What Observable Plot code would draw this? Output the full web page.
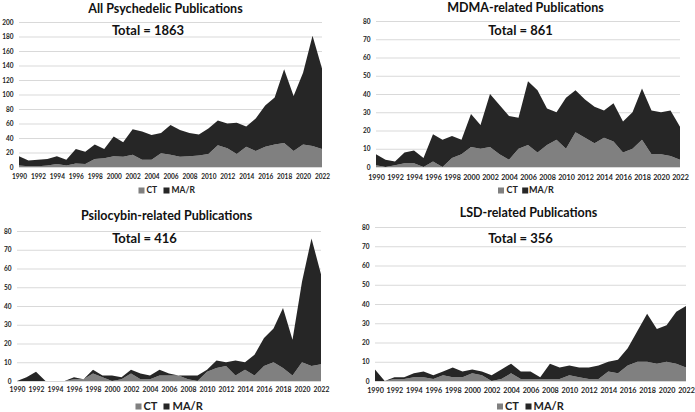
<!DOCTYPE html>
<html><head><meta charset="utf-8">
<script src="https://cdn.jsdelivr.net/npm/d3@7"></script>
<script src="https://cdn.jsdelivr.net/npm/@observablehq/plot@0.6"></script>
<style>
html,body{margin:0;padding:0;background:#fff;}
#root{position:relative;width:695px;height:412px;overflow:hidden;background:#fff;}
.panel{position:absolute;overflow:visible;}
</style></head><body><div id="root"></div>
<script>
const years = [1990,1991,1992,1993,1994,1995,1996,1997,1998,1999,2000,2001,2002,2003,2004,2005,2006,2007,2008,2009,2010,2011,2012,2013,2014,2015,2016,2017,2018,2019,2020,2021,2022];
const tickYears = [1990,1992,1994,1996,1998,2000,2002,2004,2006,2008,2010,2012,2014,2016,2018,2020,2022];
const seriesNames = ["CT","MA/R"];
const seriesColors = ["#808080","#262626"];

const titles = ["All Psychedelic Publications","MDMA-related Publications","Psilocybin-related Publications","LSD-related Publications"];
const totals = ["Total = 1863","Total = 861","Total = 416","Total = 356"];

const allCT  = [2,1,1,2,4,2,5,4,11,12,15,14,17,10,10,19,17,14,15,16,18,30,26,18,28,22,28,31,33,22,31,29,25];
const allMAR = [13,8,9,9,11,8,20,17,20,13,27,20,35,39,34,28,41,37,32,29,35,34,34,43,28,45,57,65,102,76,99,152,111];

const mdmaCT  = [1,0,1,2,2,0,3,0,5,7,11,10,11,7,4,10,12,8,12,15,10,19,16,13,16,14,8,10,15,7,7,6,4];
const mdmaMAR = [6,4,2,6,7,5,15,15,12,8,18,13,29,27,24,17,35,34,20,15,28,23,21,20,15,21,17,20,28,24,23,25,18];

const psiCT  = [0,0,0,0,0,0,1,1,4,2,0,1,4,1,1,3,3,3,1,0,5,7,8,3,6,3,8,10,7,3,10,8,9];
const psiMAR = [0,2,5,0,0,0,1,0,2,1,3,1,2,3,2,3,1,0,2,3,1,4,2,8,4,11,15,18,32,19,43,68,48];

const lsdCT  = [0,0,1,1,2,2,1,3,2,2,4,3,0,1,4,1,1,1,1,1,3,2,1,1,5,4,8,10,10,9,10,9,7];
const lsdMAR = [6,0,1,1,2,3,2,2,5,3,2,2,3,5,5,4,4,1,8,6,5,5,6,7,5,7,9,16,25,18,19,27,32];

const yTicksAll = [0,20,40,60,80,100,120,140,160,180,200];
const yTicks80 = [0,10,20,30,40,50,60,70,80];

const FONT = "Lato, 'Open Sans', sans-serif";

function panel(cfg) {
  const data = [];
  seriesNames.forEach((s, k) => years.forEach((yr, i) => data.push({year: yr, type: s, value: cfg.series[k][i]})));
  const yTicks = cfg.yTicks;
  const chart = Plot.plot({
    width: cfg.w, height: cfg.h,
    marginTop: cfg.mt, marginRight: cfg.mr, marginBottom: cfg.mb, marginLeft: cfg.ml,
    style: {fontFamily: FONT, background: "#fff", overflow: "visible", color: "#000"},
    x: {domain: [years[0], years[years.length - 1]], label: null},
    y: {domain: [yTicks[0], yTicks[yTicks.length - 1]], label: null},
    color: {domain: seriesNames, range: seriesColors},
    marks: [
      Plot.gridY(yTicks, {stroke: "#d9d9d9", strokeOpacity: 1, strokeWidth: 1}),
      Plot.areaY(data, {x: "year", y: "value", fill: "type", z: "type"}),
      Plot.axisX(tickYears, {label: null, tickSize: 0, tickPadding: cfg.xPad, fontSize: cfg.xFont, fontWeight: "bold", tickFormat: d => String(d), fill: "#222"}),
      Plot.axisY(yTicks, {label: null, tickSize: 0, tickPadding: cfg.yPad, fontSize: cfg.yFont, fontWeight: "bold", fill: "#222"}),
      Plot.text([cfg.title], {frameAnchor: "top", lineAnchor: "middle", dx: cfg.tdx, dy: cfg.tdy, fontSize: cfg.tFont, fontWeight: "bold", fill: "#111"}),
      Plot.text([cfg.total], {frameAnchor: "top", lineAnchor: "middle", dx: cfg.sdx, dy: cfg.sdy, fontSize: cfg.sFont, fontWeight: "bold", fill: "#111"}),
      Plot.dot([seriesNames[0]], {frameAnchor: "bottom", dx: cfg.lg[0], dy: cfg.ldy, symbol: "square", r: cfg.lr, fill: seriesColors[0], stroke: "none"}),
      Plot.text([seriesNames[0]], {frameAnchor: "bottom", textAnchor: "start", lineAnchor: "middle", dx: cfg.lg[1], dy: cfg.ldy, fontSize: cfg.lFont, fontWeight: "bold", fill: "#222"}),
      Plot.dot([seriesNames[1]], {frameAnchor: "bottom", dx: cfg.lg[2], dy: cfg.ldy, symbol: "square", r: cfg.lr, fill: seriesColors[1], stroke: "none"}),
      Plot.text([seriesNames[1]], {frameAnchor: "bottom", textAnchor: "start", lineAnchor: "middle", dx: cfg.lg[3], dy: cfg.ldy, fontSize: cfg.lFont, fontWeight: "bold", fill: "#222"})
    ]
  });
  chart.classList.add("panel");
  chart.style.left = cfg.x + "px";
  chart.style.top = cfg.y + "px";
  document.getElementById("root").appendChild(chart);
}

panel({x: 0, y: 0, w: 347, h: 205, mt: 22, mr: 25, mb: 38, ml: 19,
  series: [allCT, allMAR], yTicks: yTicksAll, title: titles[0], total: totals[0],
  xPad: 7, xFont: 6.5, yPad: 6, yFont: 6.5,
  tdx: -5.5, tdy: -14, tFont: 12.5, sdx: -23, sdy: 8, sFont: 13,
  lg: [-29.5, -24.5, -4.5, 0.5], ldy: 23, lr: 3.4, lFont: 8.5});

panel({x: 345, y: 0, w: 350, h: 205, mt: 21, mr: 15, mb: 38, ml: 31,
  series: [mdmaCT, mdmaMAR], yTicks: yTicks80, title: titles[1], total: totals[1],
  xPad: 7, xFont: 7.2, yPad: 6, yFont: 6.5,
  tdx: -3, tdy: -14, tFont: 12.5, sdx: -8, sdy: 9, sFont: 13,
  lg: [-27.5, -22, -3.3, 0.5], ldy: 23, lr: 3.4, lFont: 9});

panel({x: 0, y: 205, w: 347, h: 207, mt: 26, mr: 26, mb: 31, ml: 17,
  series: [psiCT, psiMAR], yTicks: yTicks80, title: titles[2], total: totals[2],
  xPad: 6, xFont: 6.8, yPad: 6, yFont: 6.5,
  tdx: -3, tdy: -16, tFont: 12.5, sdx: -25, sdy: 7, sFont: 13,
  lg: [-31, -26, -3, 3], ldy: 25, lr: 3.4, lFont: 11});

panel({x: 345, y: 205, w: 350, h: 207, mt: 22, mr: 9, mb: 31, ml: 30,
  series: [lsdCT, lsdMAR], yTicks: yTicks80, title: titles[3], total: totals[3],
  xPad: 6, xFont: 7.2, yPad: 6, yFont: 6.5,
  tdx: -2.5, tdy: -15, tFont: 12.5, sdx: -10.5, sdy: 11, sFont: 13,
  lg: [-31, -26, -2.5, 2.5], ldy: 25, lr: 3.4, lFont: 11});
</script>
</body></html>
